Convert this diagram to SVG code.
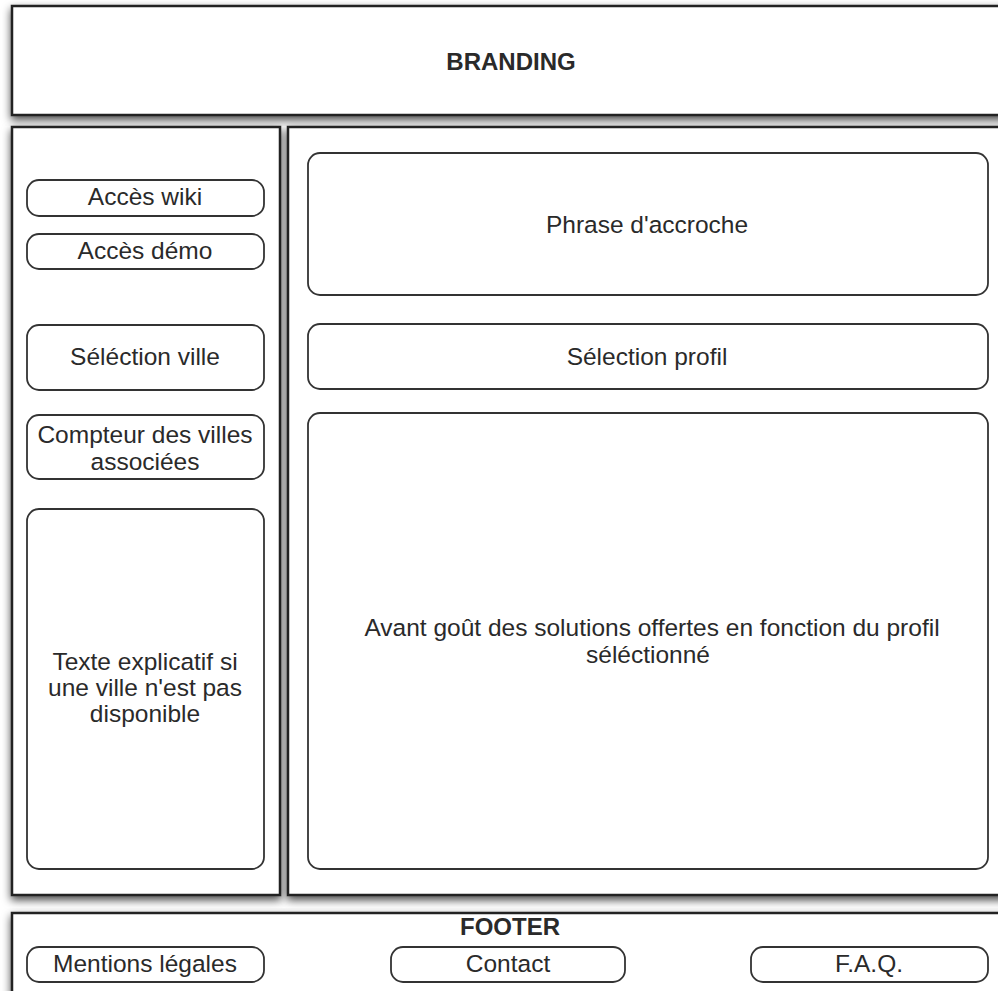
<svg xmlns="http://www.w3.org/2000/svg" width="998" height="991" viewBox="0 0 998 991">
<defs>
<filter id="sh" x="-5%" y="-5%" width="110%" height="115%">
<feDropShadow dx="0" dy="4" stdDeviation="4" flood-color="#000" flood-opacity="0.7"/>
</filter>
</defs>
<style>
.panel{fill:#fff;stroke:#222;stroke-width:2.5;filter:url(#sh)}
.box{fill:#fff;stroke:#333;stroke-width:1.8}
.t{font-family:"Liberation Sans",Arial,sans-serif;font-size:24.5px;fill:#2a2a2a;text-anchor:middle}
.b{font-weight:bold;font-size:24px}
</style>
<rect width="998" height="991" fill="#fff"/>
<g id="branding">
<rect class="panel" x="12" y="6" width="996" height="109"/>
<text class="t b" x="511" y="70">BRANDING</text>
</g>
<g id="left-panel">
<rect class="panel" x="12" y="127" width="268" height="768"/>
</g>
<g id="right-panel">
<rect class="panel" x="288" y="127" width="720" height="768"/>
</g>
<g id="footer">
<rect class="panel" x="12" y="913" width="996" height="100"/>
<text class="t b" x="510" y="935">FOOTER</text>
</g>
<g id="acces-wiki">
<rect class="box" x="27" y="180" width="237" height="36" rx="12"/>
<text class="t" x="145" y="205">Accès wiki</text>
</g>
<g id="acces-demo">
<rect class="box" x="27" y="234" width="237" height="35" rx="12"/>
<text class="t" x="145" y="259">Accès démo</text>
</g>
<g id="selection-ville">
<rect class="box" x="27" y="325" width="237" height="65" rx="12"/>
<text class="t" x="145" y="365">Séléction ville</text>
</g>
<g id="compteur">
<rect class="box" x="27" y="415" width="237" height="64" rx="12"/>
<text class="t" x="145" y="443">Compteur des villes</text>
<text class="t" x="145" y="470">associées</text>
</g>
<g id="texte-explicatif">
<rect class="box" x="27" y="509" width="237" height="360" rx="12"/>
<text class="t" x="145" y="670">Texte explicatif si</text>
<text class="t" x="145" y="696">une ville n'est pas</text>
<text class="t" x="145" y="722">disponible</text>
</g>
<g id="phrase">
<rect class="box" x="308" y="153" width="680" height="142" rx="12"/>
<text class="t" x="647" y="233">Phrase d'accroche</text>
</g>
<g id="selection-profil">
<rect class="box" x="308" y="324" width="680" height="65" rx="12"/>
<text class="t" x="647" y="365">Sélection profil</text>
</g>
<g id="avant-gout">
<rect class="box" x="308" y="413" width="680" height="456" rx="12"/>
<text class="t" x="652" y="636">Avant goût des solutions offertes en fonction du profil</text>
<text class="t" x="648" y="663">séléctionné</text>
</g>
<g id="mentions">
<rect class="box" x="27" y="947" width="237" height="35" rx="12"/>
<text class="t" x="145" y="972">Mentions légales</text>
</g>
<g id="contact">
<rect class="box" x="391" y="947" width="234" height="35" rx="12"/>
<text class="t" x="508" y="972">Contact</text>
</g>
<g id="faq">
<rect class="box" x="751" y="947" width="237" height="35" rx="12"/>
<text class="t" x="869" y="972">F.A.Q.</text>
</g>
<g id="connectors"></g>
</svg>
